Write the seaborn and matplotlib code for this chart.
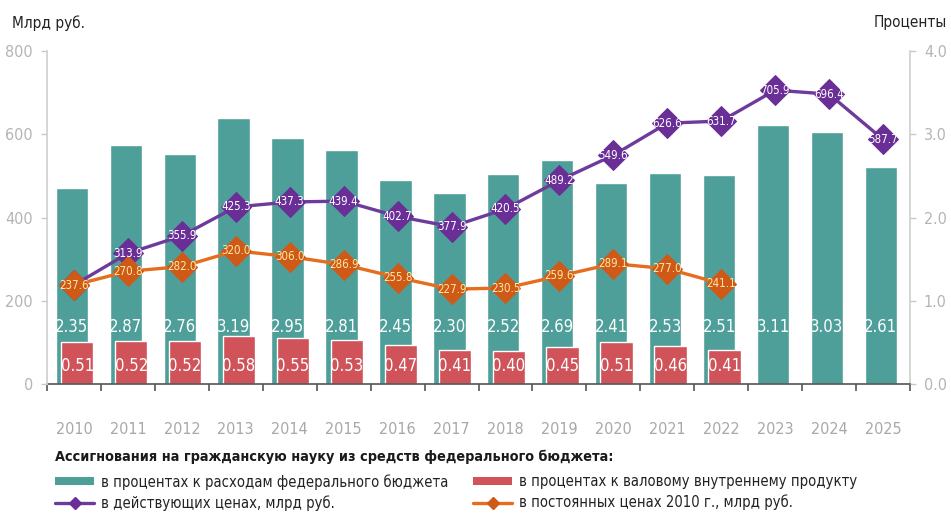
# %%
import numpy as np
import pandas as pd
import seaborn as sns
import matplotlib.pyplot as plt
from matplotlib.lines import Line2D
from matplotlib.patches import Patch

# %%
# Assignments for civil science from the federal budget
years = [str(y) for y in range(2010, 2026)]
pct_budget = [2.35, 2.87, 2.76, 3.19, 2.95, 2.81, 2.45, 2.30,
              2.52, 2.69, 2.41, 2.53, 2.51, 3.11, 3.03, 2.61]
pct_gdp = [0.51, 0.52, 0.52, 0.58, 0.55, 0.53, 0.47, 0.41,
           0.40, 0.45, 0.51, 0.46, 0.41]
current_prices = [237.6, 313.9, 355.9, 425.3, 437.3, 439.4, 402.7, 377.9,
                  420.5, 489.2, 549.6, 626.6, 631.7, 705.9, 696.4, 587.7]
const_prices = [237.6, 270.8, 282.0, 320.0, 306.0, 286.9, 255.8, 227.9,
                230.5, 259.6, 289.1, 277.0, 241.1]

legend_title = 'Ассигнования на гражданскую науку из средств федерального бюджета:'
legend_labels = ['в процентах к расходам федерального бюджета',
                 'в действующих ценах, млрд руб.',
                 'в процентах к валовому внутреннему продукту',
                 'в постоянных ценах 2010 г., млрд руб.']

teal = '#4e9f99'
red = '#cf5359'
purple = '#6e3a9c'
purple_mk = '#6a2e97'
orange = '#e66d1e'
orange_mk = '#cf5a18'
tick_gray = '#a8a8a8'

# %%
sns.set_theme(style='white')
plt.rcParams['font.family'] = ['DejaVu Sans']
plt.rcParams['font.stretch'] = 'condensed'

fig = plt.figure(figsize=(9.51, 5.15), dpi=100)
ax = fig.add_axes([47/951, 1-384/515, (910-47)/951, (384-51)/515])

n = len(years)
df_budget = pd.DataFrame({'pos': np.arange(n) - 0.04, 'val': pct_budget})
df_gdp = pd.DataFrame({'pos': np.arange(len(pct_gdp)) + 0.06, 'val': pct_gdp})

sns.barplot(data=df_budget, x='pos', y='val', native_scale=True, width=0.6,
            color=teal, saturation=1, errorbar=None, ax=ax)
sns.barplot(data=df_gdp, x='pos', y='val', native_scale=True, width=0.6,
            color=red, saturation=1, errorbar=None, ax=ax)

for i, v in enumerate(pct_budget):
    ax.text(i - 0.04, 0.69, f'{v:.2f}', ha='center', va='center',
            color='white', fontsize=12)
for i, v in enumerate(pct_gdp):
    ax.text(i + 0.06, 0.215, f'{v:.2f}', ha='center', va='center',
            color='white', fontsize=12)

# lines on twin axis (drawn over the bars)
ax2 = ax.twinx()
sns.lineplot(x=np.arange(n), y=current_prices, ax=ax2, color=purple, lw=2.4,
             marker='D', markersize=15, markeredgecolor=purple_mk,
             markerfacecolor=purple_mk)
sns.lineplot(x=np.arange(len(const_prices)), y=const_prices, ax=ax2, color=orange,
             lw=2.4, marker='D', markersize=15, markeredgecolor=orange_mk,
             markerfacecolor=orange_mk)

for i, v in enumerate(current_prices):
    if i == 0:
        continue
    ax2.text(i, v, f'{v:.1f}', ha='center', va='center', color='white', fontsize=8.3)
for i, v in enumerate(const_prices):
    ax2.text(i, v, f'{v:.1f}', ha='center', va='center', color='#ffe7a0', fontsize=8.3)

# %%
# axes styling
ax.set_xlim(-0.5, n - 0.5)
ax.set_ylim(0, 4)
ax2.set_ylim(0, 800)
ax.set_xlabel('')
ax.set_ylabel('')
ax2.set_ylabel('')

ax.yaxis.tick_right()
ax2.yaxis.tick_left()
ax.set_yticks([0, 1, 2, 3, 4])
ax.set_yticklabels(['0.0', '1.0', '2.0', '3.0', '4.0'])
ax2.set_yticks([0, 200, 400, 600, 800])

ax.set_xticks(np.arange(-0.5, n, 1))
ax.set_xticklabels([])
ax.set_xticks(np.arange(n), minor=True)
ax.set_xticklabels(years, minor=True)

ax.tick_params(axis='x', which='major', direction='out', length=5, width=1.2,
               color='#555555', bottom=True)
ax.tick_params(axis='x', which='minor', length=0, pad=27, labelsize=11.5,
               labelcolor=tick_gray)
ax.tick_params(axis='y', direction='out', length=4, width=1, color='#c8c8c8',
               labelcolor='#b4b4b4', labelsize=11.5, pad=6, right=True, left=False)
ax2.tick_params(axis='y', direction='out', length=4, width=1, color='#c8c8c8',
                labelcolor='#b4b4b4', labelsize=11.5, pad=6, left=True, right=False)

for a in (ax, ax2):
    a.spines['top'].set_visible(False)
    a.spines['left'].set_visible(False)
    a.spines['right'].set_visible(False)
    a.spines['bottom'].set_visible(False)
ax.spines['bottom'].set_visible(True)
ax.spines['bottom'].set_color('#555555')
ax.spines['bottom'].set_linewidth(1.2)
ax.spines['right'].set_visible(True)
ax.spines['right'].set_color('#d0d0d0')
ax2.spines['left'].set_visible(True)
ax2.spines['left'].set_color('#d0d0d0')

fig.text(12/951, 1-23/515, 'Млрд руб.', fontsize=11, color='#222222', va='center')
fig.text(947/951, 1-23/515, 'Проценты', fontsize=11, color='#222222',
         va='center', ha='right')

# %%
# legend
fig.text(55/951, 1-457/515, legend_title, fontsize=10.4, fontweight='bold',
         color='#1a1a1a', va='center')

h_teal = Patch(facecolor=teal, edgecolor='none')
h_red = Patch(facecolor=red, edgecolor='none')
h_purple = Line2D([], [], color=purple, lw=2.4, marker='D', markersize=6,
                  markerfacecolor=purple_mk, markeredgecolor=purple_mk)
h_orange = Line2D([], [], color=orange, lw=2.4, marker='D', markersize=6,
                  markerfacecolor=orange_mk, markeredgecolor=orange_mk)

leg_kw = dict(loc='upper left', frameon=False, fontsize=10.6, handlelength=2.65,
              handleheight=0.45, handletextpad=0.45, labelspacing=0.38,
              borderpad=0, borderaxespad=0, labelcolor='#222222')
fig.legend(handles=[h_teal, h_purple], labels=legend_labels[:2],
           bbox_to_anchor=(55/951, 1-474/515), **leg_kw)
fig.legend(handles=[h_red, h_orange], labels=legend_labels[2:],
           bbox_to_anchor=(473/951, 1-474/515), **leg_kw)

fig.savefig('out.png', dpi=100)
